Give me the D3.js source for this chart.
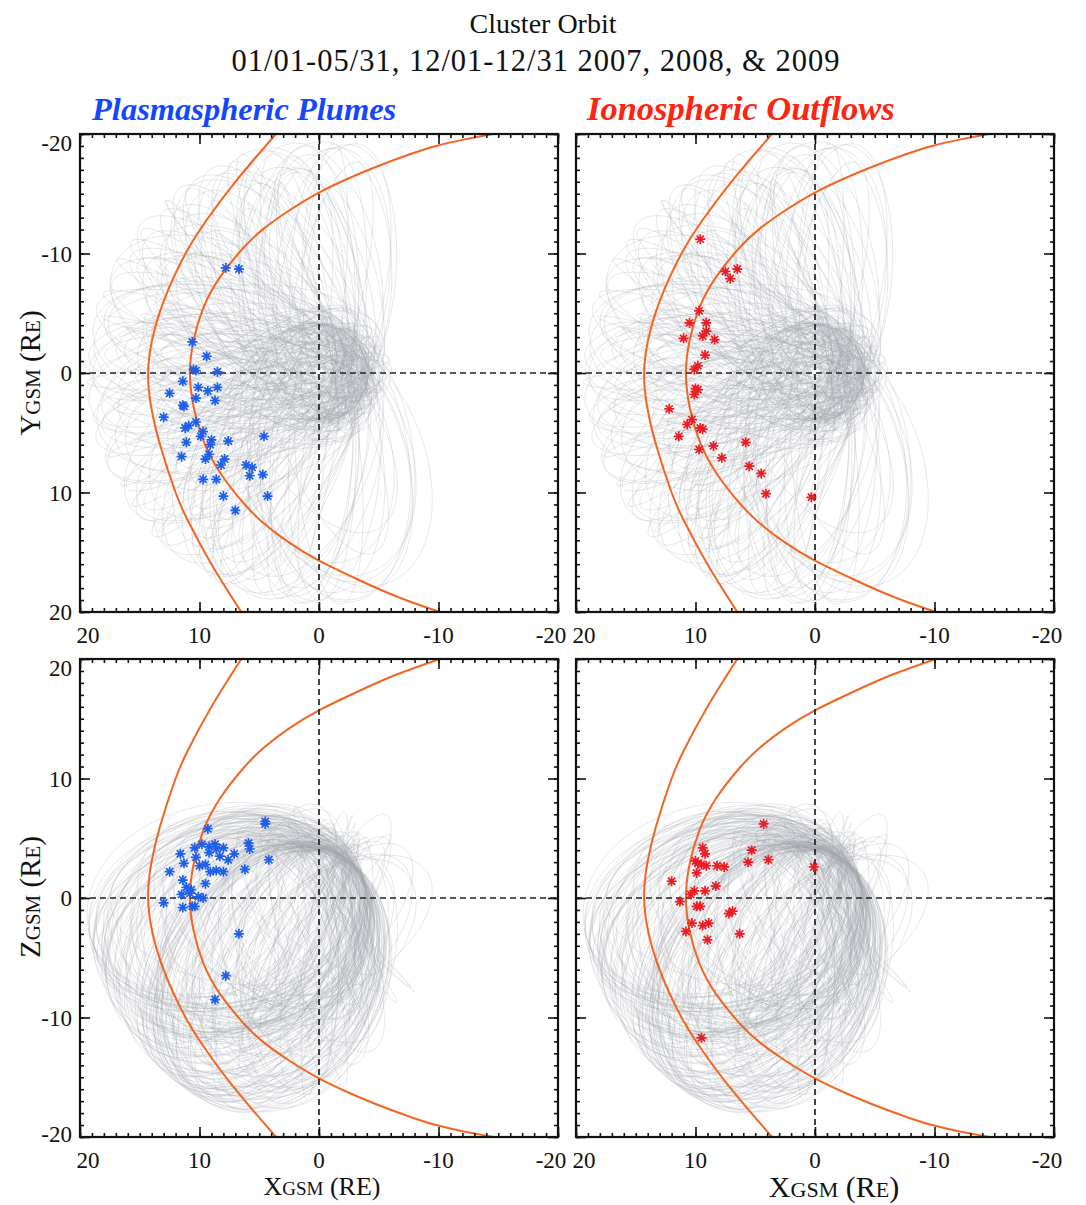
<!DOCTYPE html>
<html>
<head>
  <title>Cluster Orbit</title>
  <script src="https://d3js.org/d3.v7.min.js"></script>
  <style>
    body { margin: 0; background: #fff; }
    svg text { font-family: "Liberation Serif", "Times New Roman", serif; fill: #111; }
  </style>
</head>
<body>
<div id="chart"></div>
<script>
  // ---- data ----
  const tickLabels = [20, 10, 0, -10, -20];

  // model boundaries, [distance from Sun-Earth line (Y or Z), X] in RE
  const magnetopause = [[-20,-14.6],[-19.55,-12.2],[-19.0,-9.8],[-18.3,-7.6],[-17.3,-4.9],[-16.3,-2.5],[-15.1,0],[-13.6,2.5],
    [-12.1,4.6],[-10.5,6.3],[-8,8.3],[-5.4,9.7],[-2.7,10.5],[0,10.8],[2.8,10.5],[5.6,9.7],[8.3,8.3],[10.9,6.3],[12.6,4.6],
    [14.2,2.5],[15.7,0],[17.3,-3.3],[18.7,-6.5],[20,-10.1]];
  const bowShock = [[-20,3.6],[-16,7.0],[-12.8,9.4],[-10.3,11.0],[-6,13.0],[0,14.3],[6,13.3],[10,12.0],[12.3,11.0],[16,9.0],[20,6.5]];

  // event locations [X, Y] and [X, Z]
  const plumesXY = [[7.8,-8.8],[6.7,-8.7],[10.6,-2.6],[9.4,-1.4],[10.5,-0.3],[10.3,-0.2],[8.5,-0.1],[11.4,0.7],[12.5,1.7],[10.1,1.2],
    [9.3,1.5],[8.5,1.2],[10.3,2.1],[8.7,2.3],[11.4,2.7],[11.3,2.8],[13.0,3.7],[11.2,4.6],[10.9,4.4],[10.3,4.1],[9.9,5.3],[9.7,4.9],
    [9.0,5.6],[9.1,6.0],[11.1,5.8],[7.6,5.7],[4.6,5.3],[11.5,7.0],[9.5,7.2],[9.2,6.8],[7.9,7.2],[8.2,7.7],[6.1,7.7],[5.6,7.9],
    [5.8,8.6],[4.7,8.5],[9.7,8.9],[8.6,8.9],[8.0,10.3],[4.3,10.3],[7.0,11.5]];
  const outflowsXY = [[9.6,-11.2],[7.5,-8.5],[6.5,-8.7],[7.1,-7.9],[9.7,-5.2],[10.5,-4.2],[9.1,-4.2],[9.1,-3.5],[9.4,-3.1],[11.0,-2.9],
    [8.4,-2.8],[9.2,-1.5],[9.8,-0.6],[10.1,-0.3],[10.0,1.3],[9.8,1.4],[10.1,1.8],[12.2,3.0],[10.3,3.9],[10.7,4.3],[9.6,4.6],[9.4,4.7],
    [11.4,5.3],[9.7,6.4],[8.5,6.1],[5.8,5.8],[7.8,7.1],[5.5,7.8],[4.5,8.4],[4.1,10.1],[0.3,10.4]];
  const plumesXZ = [[4.5,6.4],[4.5,6.2],[9.3,5.8],[5.9,4.6],[5.8,4.1],[4.2,3.2],[11.6,3.7],[10.4,4.2],[9.8,4.5],[9.2,4.3],[8.7,4.5],
    [8.6,4.1],[8.0,4.2],[9.2,3.8],[8.3,3.5],[7.1,3.7],[7.6,3.2],[11.3,2.9],[10.3,3.4],[10.0,2.7],[9.5,2.8],[12.5,2.2],[9.1,2.2],
    [8.6,2.3],[8.0,2.2],[6.2,2.4],[11.4,1.5],[9.5,1.2],[11.1,0.9],[11.5,0.3],[10.7,0.7],[10.1,0.1],[9.7,0.0],[10.8,0.4],[13.0,-0.4],
    [11.4,-0.8],[10.6,-0.7],[10.4,-0.7],[6.7,-3.0],[7.8,-6.5],[8.7,-8.5]];
  const outflowsXZ = [[4.3,6.2],[9.4,4.2],[9.2,3.7],[5.3,4.0],[5.6,3.0],[3.9,3.2],[0.1,2.6],[10.0,3.1],[9.8,2.9],[9.5,2.8],[9.1,2.7],
    [8.2,2.7],[7.6,2.6],[9.9,2.1],[12.0,1.4],[8.3,1.0],[10.1,0.6],[9.2,0.6],[10.4,0.3],[11.3,-0.3],[9.9,-0.7],[9.6,-0.7],[6.9,-1.1],
    [7.2,-1.3],[10.3,-2.1],[9.4,-2.3],[8.9,-2.1],[10.8,-2.8],[6.3,-3.0],[9.0,-3.5],[9.5,-11.7]];

  // Cluster orbits: apogee direction (GSM azimuth, elevation) and tilt of the orbit plane, degrees
  const apogeeRE = 19.5, perigeeRE = 4.0;
  const azimuthA = [-100,-97,-95,-92,-90,-88,-85,-83,-80,-78,-75,-73,-70,-68,-65,-63,-60,-58,-55,-53,-50,-48,-45,-43,-40,-38,
    -35,-33,-30,-28,-25,-23,-20,-18,-15,-13,-10,-8,-5,-3,0,2,5,7,10,12,15,17,20,22,25,27,30,32,35,37,40,42,45,47,50,52,55,57,60,62,
    65,67,70,72,75,77,80,82,85,87,90,92,95,97,100,103];
  const elevationA = [-10,-28,-45,-16,-36,-52,-8,-24,-40,-14,-32,-50,-6,-20,-38,-55,-12,-30,-46,-18,-34,-9,-26,-42,-15,-48,
    -22,-38,-7,-30,-53,-13,-25,-44,-19,-35,-10,-28,-50,-16,-40,-6,-23,-45,-12,-33,-54,-20,-37,-9,-27,-47,-15,-31,-51,-11,-24,-41,
    -17,-36,-8,-29,-49,-14,-39,-21,-6,-33,-46,-12,-25,-43,-18,-30,-10,-38,-52,-15,-27,-44,-8,-20];
  const tiltA = [35,-20,15,-40,28,-10,42,-30,8,25,-38,18,-12,40,-25,5,33,-42,20,-15,38,-5,-28,30,12,-35,22,-8,45,-18,10,-32,
    36,-22,4,27,-40,16,-14,39,-26,7,31,-44,19,-11,37,-24,2,29,-36,14,-6,43,-30,21,-16,34,-3,26,-38,11,-20,41,-9,24,-33,17,-13,44,
    -27,6,32,-41,23,-7,48,-19,52,30,-45,55];
  const azimuthB = [-99,-96,-93,-91,-89,-86,-84,-81,-79,-76,-74,-71,-69,-66,-64,-61,-59,-56,-54,-51,-49,-46,-44,-41,-39,-36,
    -34,-31,-29,-26,-24,-21,-19,-16,-14,-11,-9,-6,-4,-1,1,4,6,9,11,14,16,19,21,24,26,29,31,34,36,39,41,44,46,49,51,54,56,59,61,64,
    66,69,71,74,76,79,81,84,86,89,91,94,96,99,101];
  const elevationB = [-5,-18,-12,-33,-8,-25,-15,-42,-10,-20,-6,-30,-14,-48,-9,-22,-16,-37,-7,-27,-11,-44,-19,-5,-32,-13,-24,
    -50,-8,-17,-35,-12,-21,-6,-40,-15,-26,-9,-45,-18,-11,-29,-7,-38,-14,-23,-5,-34,-16,-52,-10,-20,-31,-8,-13,-43,-19,-6,-28,
    -12,-36,-9,-24,-15,-47,-7,-21,-11,-33,-17,-5,-26,-13,-39,-9,-22,-14,-30,-6,-18,-12];
  const tiltB = [-30,22,-12,38,-45,18,-26,8,33,-16,44,-38,14,-4,29,-22,41,-10,24,-34,6,37,-19,27,-41,13,-28,45,-7,20,-36,10,
    32,-24,3,40,-14,26,-43,17,-31,9,35,-21,46,-12,23,-37,5,30,-27,15,-46,39,-8,25,-33,12,42,-17,28,-40,7,36,-25,19,-11,48,-29,
    16,-50,34,-15,55,-22,40,-35,58,-18,45,-48];
  const azimuthC = [-50,-44,-38,-33,-28,-24,-20,-16,-12,-9,-6,-3,0,3,6,9,12,15,19,23,27,31,36,41,46,52];
  const elevationC = [-52,-58,-48,-61,-55,-50,-60,-46,-57,-53,-62,-49,-56,-59,-51,-47,-61,-54,-58,-50,-56,-62,-48,-55,-52,-59];
  const tiltC = [20,-15,32,-28,10,-38,24,-6,40,-20,14,-33,28,-12,36,-25,8,-40,18,-8,30,-22,12,-35,25,-18];

  // ---- layout ----
  const width = 1086, height = 1205, size = 478;
  const colLeft = [80, 576], rowTop = [134, 659];
  const plumeColor = "#1d5fea", outflowColor = "#ec1c24", boundaryColor = "#f26522";

  const svg = d3.select("#chart").append("svg")
    .attr("width", width)
    .attr("height", height);

  // title
  svg.append("text").attr("x", 543).attr("y", 33).attr("text-anchor", "middle")
    .style("font-size", "28px").text("Cluster Orbit");
  svg.append("text").attr("x", 536).attr("y", 71).attr("text-anchor", "middle")
    .style("font-size", "30.5px").style("letter-spacing", "1px")
    .text("01/01-05/31, 12/01-12/31 2007, 2008, & 2009");

  svg.append("text").attr("x", 92).attr("y", 120)
    .style("font-size", "32.5px").style("font-weight", "bold").style("font-style", "italic")
    .style("fill", "#1446ff").text("Plasmaspheric Plumes");
  svg.append("text").attr("x", 587).attr("y", 120)
    .style("font-size", "34.5px").style("font-weight", "bold").style("font-style", "italic")
    .style("fill", "#ff2310").text("Ionospheric Outflows");

  // orbit geometry (ellipse with Earth at the focus)
  const deg = Math.PI / 180;
  const semiMajor = (apogeeRE + perigeeRE) / 2;
  const centreShift = (apogeeRE - perigeeRE) / 2;
  const semiMinor = Math.sqrt(apogeeRE * perigeeRE);
  const anomaly = d3.range(0, 2 * Math.PI, Math.PI / 60);
  const orbitParams = d3.zip(azimuthA, elevationA, tiltA)
    .concat(d3.zip(azimuthB, elevationB, tiltB))
    .concat(d3.zip(azimuthC, elevationC, tiltC));
  const orbits = orbitParams.map(([az, el, tilt]) => {
    const f = az * deg, l = el * deg, t = tilt * deg;
    const u = [Math.cos(l) * Math.cos(f), Math.cos(l) * Math.sin(f), Math.sin(l)];
    const w = [-Math.sin(l) * Math.cos(f), -Math.sin(l) * Math.sin(f), Math.cos(l)];
    const v = [-Math.sin(f), Math.cos(f), 0];
    const n = [0, 1, 2].map(k => Math.cos(t) * w[k] + Math.sin(t) * v[k]);
    return anomaly.map(E => [0, 1, 2].map(k =>
      (centreShift + semiMajor * Math.cos(E)) * u[k] + semiMinor * Math.sin(E) * n[k]));
  });

  const panels = [
    {col: 0, row: 0, view: "xy", events: plumesXY, color: plumeColor},
    {col: 1, row: 0, view: "xy", events: outflowsXY, color: outflowColor},
    {col: 0, row: 1, view: "xz", events: plumesXZ, color: plumeColor},
    {col: 1, row: 1, view: "xz", events: outflowsXZ, color: outflowColor}
  ];

  const star = "M-5,0H5M0,-5V5M-3.6,-3.6L3.6,3.6M-3.6,3.6L3.6,-3.6";

  panels.forEach((p, i) => {
    const x0 = colLeft[p.col], y0 = rowTop[p.row];
    const xScale = d3.scaleLinear().domain([20, -20]).range([x0, x0 + size]);
    const yScale = d3.scaleLinear()
      .domain(p.view === "xy" ? [-20, 20] : [20, -20])
      .range([y0, y0 + size]);
    const k = p.view === "xy" ? 1 : 2;

    const g = svg.append("g");
    g.append("clipPath").attr("id", "clip" + i)
      .append("rect").attr("x", x0).attr("y", y0).attr("width", size).attr("height", size);
    const inner = g.append("g").attr("clip-path", `url(#clip${i})`);

    // orbit traces
    const orbitLine = d3.line().x(d => xScale(d[0])).y(d => yScale(d[k])).curve(d3.curveLinearClosed);
    inner.append("g").selectAll("path")
      .data(orbits)
      .join("path")
      .attr("d", orbitLine)
      .attr("fill", "none")
      .attr("stroke", "#a2a7ad")
      .attr("stroke-opacity", 0.4)
      .attr("stroke-width", 0.65);

    // magnetopause and bow shock
    const boundary = d3.line().x(d => xScale(d[1])).y(d => yScale(d[0])).curve(d3.curveNatural);
    inner.selectAll(".boundary")
      .data([magnetopause, bowShock])
      .join("path")
      .attr("class", "boundary")
      .attr("d", boundary)
      .attr("fill", "none")
      .attr("stroke", boundaryColor)
      .attr("stroke-width", 2);

    // zero lines
    inner.append("line").attr("x1", xScale(0)).attr("x2", xScale(0)).attr("y1", y0).attr("y2", y0 + size)
      .attr("stroke", "#222").attr("stroke-width", 1.7).attr("stroke-dasharray", "6,4");
    inner.append("line").attr("x1", x0).attr("x2", x0 + size).attr("y1", yScale(0)).attr("y2", yScale(0))
      .attr("stroke", "#222").attr("stroke-width", 1.7).attr("stroke-dasharray", "6,4");

    // events
    inner.append("g").selectAll("path")
      .data(p.events)
      .join("path")
      .attr("transform", d => `translate(${xScale(d[0])},${yScale(d[1])})`)
      .attr("d", star)
      .attr("stroke", p.color)
      .attr("stroke-width", 1.7)
      .attr("fill", "none");

    // ticks on all four sides, pointing inward
    const minor = d3.range(-20, 21, 1), major = [-20, -10, 0, 10, 20];
    [[minor, 4], [major, 10]].forEach(([vals, len]) => {
      const axes = [
        [d3.axisBottom(xScale), `translate(0,${y0 + size})`],
        [d3.axisTop(xScale), `translate(0,${y0})`],
        [d3.axisLeft(yScale), `translate(${x0},0)`],
        [d3.axisRight(yScale), `translate(${x0 + size},0)`]
      ];
      axes.forEach(([axis, tr]) => {
        g.append("g").attr("transform", tr)
          .call(axis.tickValues(vals).tickSize(-len).tickFormat(""))
          .call(a => a.select(".domain").remove())
          .call(a => a.selectAll("line").attr("stroke", "#111").attr("stroke-width", 1.6));
      });
    });

    g.append("rect").attr("x", x0).attr("y", y0).attr("width", size).attr("height", size)
      .attr("fill", "none").attr("stroke", "#111").attr("stroke-width", 2.2);

    // tick labels
    g.selectAll(".xlab")
      .data(tickLabels)
      .join("text")
      .attr("class", "xlab")
      .attr("x", d => xScale(d) + (d === 20 ? 8 : d === -20 ? -7 : 0))
      .attr("y", y0 + size + 31)
      .attr("text-anchor", "middle")
      .style("font-size", "23px")
      .text(d => d);
    if (p.col === 0) {
      g.selectAll(".ylab")
        .data(tickLabels)
        .join("text")
        .attr("class", "ylab")
        .attr("x", x0 - 8)
        .attr("y", d => {
          const py = yScale(d) + 8;
          if (Math.abs(yScale(d) - y0) < 1) return py + 9;
          if (p.row === 1 && Math.abs(yScale(d) - y0 - size) < 1) return py - 3;
          return py;
        })
        .attr("text-anchor", "end")
        .style("font-size", "23px")
        .text(d => d);
    }
  });

  // axis titles
  function axisTitle(parts, x, y, rotate) {
    const t = svg.append("text")
      .attr("transform", `translate(${x},${y})` + (rotate ? " rotate(-90)" : ""))
      .attr("text-anchor", "middle");
    parts.forEach(([s, fs]) => t.append("tspan").style("font-size", fs + "px").text(s));
  }
  axisTitle([["Y", 29], ["GSM", 21], ["\u00a0(R", 29], ["E", 21], [")", 29]], 40, 373, true);
  axisTitle([["Z", 29], ["GSM", 21], ["\u00a0(R", 29], ["E", 21], [")", 29]], 40, 897, true);
  axisTitle([["X", 26], ["GSM", 19], ["\u00a0(RE)", 26]], 322, 1195, false);
  axisTitle([["X", 30], ["GSM", 22], ["\u00a0(R", 30], ["E", 22], [")", 30]], 834, 1197, false);
</script>
</body>
</html>
